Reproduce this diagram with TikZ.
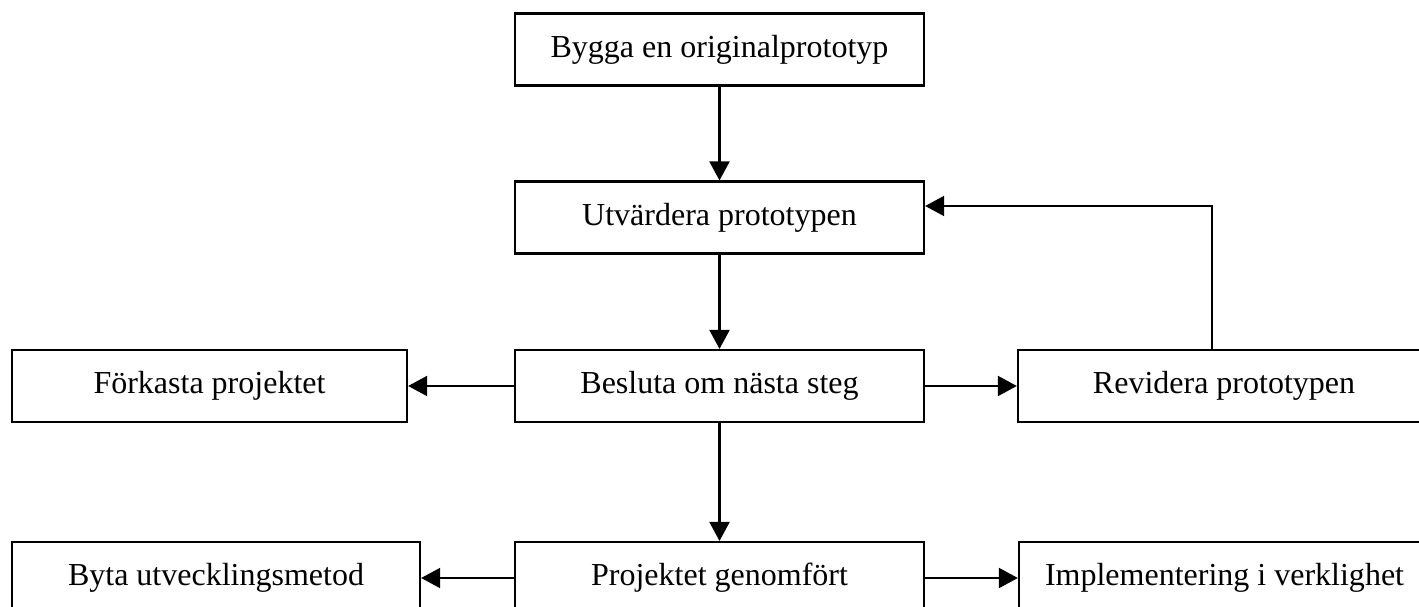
\documentclass[tikz,border=0pt]{standalone}
\usepackage{fontspec}
\setmainfont{Liberation Serif}
\usetikzlibrary{arrows.meta}

\begin{document}
\begin{tikzpicture}[x=0.01cm, y=-0.01cm, line width=0.6pt,
    box/.style={draw, rectangle, inner sep=0pt, minimum height=0.72cm, font=\fontsize{9.1}{11}\selectfont},
    arr/.style={-{Triangle[length=1.9mm, width=2mm]}}]
          \useasboundingbox (0,0) rectangle (1419,607);
          \clip (0,0) rectangle (1419,607);
          \node[box, minimum width=4.09cm] (bygga) at (719.5,49.5) {Bygga en originalprototyp};
          \node[box, minimum width=4.09cm] (utv) at (719.5,217.5) {Utvärdera prototypen};
          \node[box, minimum width=4.09cm] (besl) at (719.5,386) {Besluta om nästa steg};
          \node[box, minimum width=3.95cm] (fork) at (209.5,386) {Förkasta projektet};
          \node[box, minimum width=4.12cm] (rev) at (1224,386) {Revidera prototypen};
          \node[box, minimum width=4.08cm] (proj) at (719.5,578) {Projektet genomfört};
          \node[box, minimum width=4.08cm] (byta) at (216,578) {Byta utvecklingsmetod};
          \node[box, minimum width=4.11cm] (impl) at (1224.5,578) {Implementering i verklighet};
          \coordinate (vand) at (1212,206);
          \draw[arr] (bygga) -- (utv);
          \draw[arr] (utv) -- (besl);
          \draw[arr] (besl) -- (fork);
          \draw[arr] (besl) -- (rev);
          \draw[arr] (besl) -- (proj);
          \draw[arr] (proj) -- (byta);
          \draw[arr] (proj) -- (impl);
          \draw[arr] (rev.north -| vand) -- (vand) -- (utv.east |- vand);
        \end{tikzpicture}
\end{document}
